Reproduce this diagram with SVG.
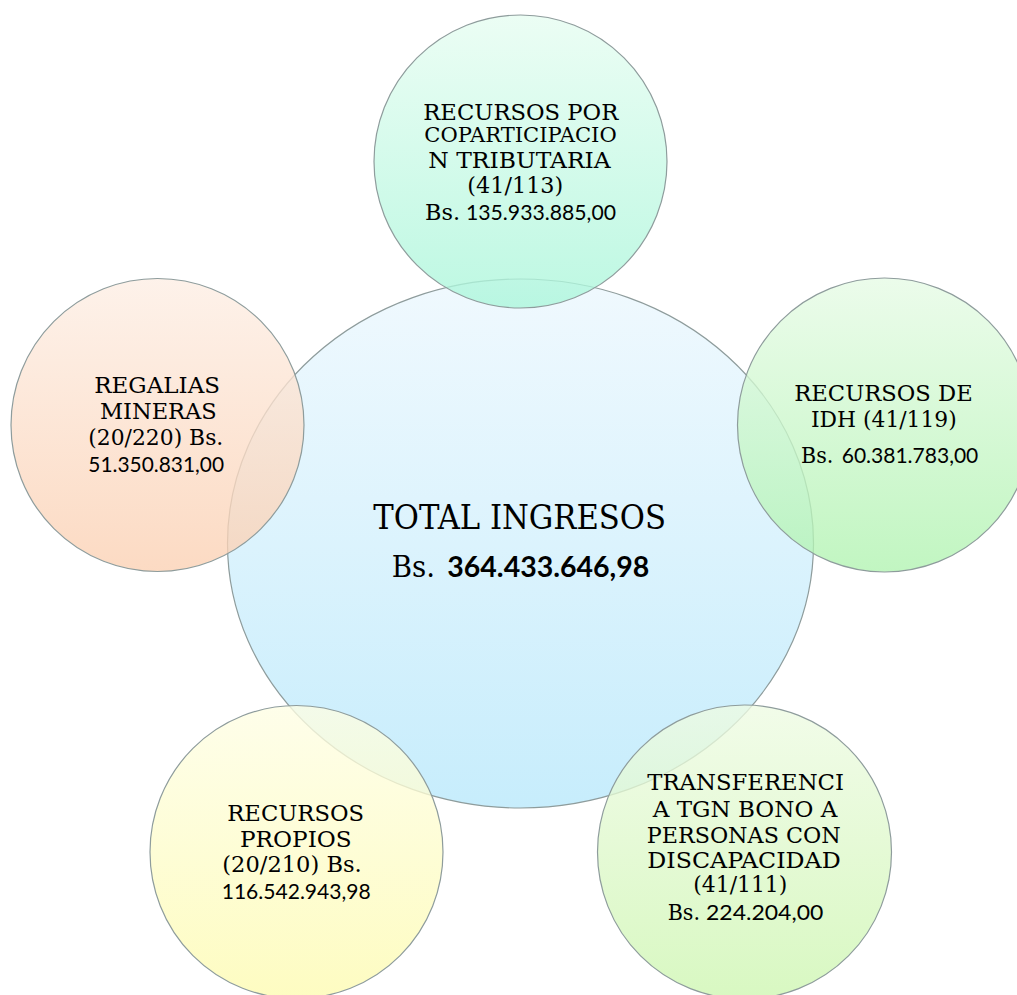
<svg xmlns="http://www.w3.org/2000/svg" width="1017" height="995" viewBox="0 0 1017 995">
<defs>
<linearGradient id="gC" x1="0" y1="0" x2="0" y2="1"><stop offset="0" stop-color="#f0f9fe"/><stop offset="1" stop-color="#c7edfc"/></linearGradient>
<linearGradient id="gT" x1="0" y1="0" x2="0" y2="1"><stop offset="0" stop-color="#e6fdf1"/><stop offset="1" stop-color="#aaf6da"/></linearGradient>
<linearGradient id="gR" x1="0" y1="0" x2="0" y2="1"><stop offset="0" stop-color="#e6fbe5"/><stop offset="1" stop-color="#b0f3b0"/></linearGradient>
<linearGradient id="gL" x1="0" y1="0" x2="0" y2="1"><stop offset="0" stop-color="#fdeee4"/><stop offset="1" stop-color="#fbd0b2"/></linearGradient>
<linearGradient id="gBL" x1="0" y1="0" x2="0" y2="1"><stop offset="0" stop-color="#fefee4"/><stop offset="1" stop-color="#fdfbb0"/></linearGradient>
<linearGradient id="gBR" x1="0" y1="0" x2="0" y2="1"><stop offset="0" stop-color="#eefbe3"/><stop offset="1" stop-color="#cdf6b0"/></linearGradient>
</defs>
<style>
.c{stroke:#8e9c9c;stroke-width:1.2}
.o{fill-opacity:0.78}
.s{font-family:"DejaVu Serif","Liberation Serif",serif;fill:#000}
.n{font-family:Lato,"Open Sans","Liberation Sans",sans-serif;fill:#000}
</style>
<rect width="1017" height="995" fill="#ffffff"/>
<g id="connectors"></g>
<g id="node-total">
<ellipse class="c" cx="520.5" cy="543.5" rx="293" ry="264.5" fill="url(#gC)"/>
</g>
<g id="node-coparticipacion">
<circle class="c o" cx="520.5" cy="161.5" r="146.5" fill="url(#gT)"/>
<text class="s" font-size="22" x="423.3" y="119.5" textLength="195" lengthAdjust="spacingAndGlyphs">RECURSOS POR</text>
<text class="s" font-size="21" x="424.3" y="142" textLength="192.4" lengthAdjust="spacingAndGlyphs">COPARTICIPACIO</text>
<text class="s" font-size="22" x="428.3" y="168.3" textLength="182.4" lengthAdjust="spacingAndGlyphs">N TRIBUTARIA</text>
<text class="s" font-size="22" x="467.3" y="192.7" textLength="96" lengthAdjust="spacingAndGlyphs">(41/113)</text>
<text font-size="22" y="220"><tspan class="s" x="425" textLength="35" lengthAdjust="spacingAndGlyphs">Bs.</tspan> <tspan class="n" font-size="21" x="466" textLength="150" lengthAdjust="spacingAndGlyphs">135.933.885,00</tspan></text>
</g>
<g id="node-idh">
<circle class="c o" cx="884.5" cy="425" r="147" fill="url(#gR)"/>
<text class="s" font-size="22" x="794.3" y="400.7" textLength="178.4" lengthAdjust="spacingAndGlyphs">RECURSOS DE</text>
<text class="s" font-size="22" x="811" y="426.7" textLength="145.7" lengthAdjust="spacingAndGlyphs">IDH (41/119)</text>
<text font-size="22" y="463.3"><tspan class="s" x="801" textLength="32.3" lengthAdjust="spacingAndGlyphs">Bs.</tspan> <tspan class="n" font-size="21" x="841.7" textLength="136.6" lengthAdjust="spacingAndGlyphs">60.381.783,00</tspan></text>
</g>
<g id="node-regalias">
<circle class="c o" cx="157.5" cy="425" r="146.5" fill="url(#gL)"/>
<text class="s" font-size="22" x="94.3" y="393.3" textLength="125.7" lengthAdjust="spacingAndGlyphs">REGALIAS</text>
<text class="s" font-size="22" x="100" y="419.3" textLength="116.7" lengthAdjust="spacingAndGlyphs">MINERAS</text>
<text class="s" font-size="22" x="88.3" y="445" textLength="135" lengthAdjust="spacingAndGlyphs">(20/220) Bs.</text>
<text class="n" font-size="21" x="88.3" y="471.7" textLength="135.7" lengthAdjust="spacingAndGlyphs">51.350.831,00</text>
</g>
<g id="node-propios">
<circle class="c o" cx="296.5" cy="852" r="146.5" fill="url(#gBL)"/>
<text class="s" font-size="22" x="227.3" y="820.7" textLength="136.7" lengthAdjust="spacingAndGlyphs">RECURSOS</text>
<text class="s" font-size="22" x="240" y="846.7" textLength="111.7" lengthAdjust="spacingAndGlyphs">PROPIOS</text>
<text class="s" font-size="22" x="222.3" y="872.2" textLength="139.4" lengthAdjust="spacingAndGlyphs">(20/210) Bs.</text>
<text class="n" font-size="20.5" x="221.7" y="898.5" textLength="149" lengthAdjust="spacingAndGlyphs">116.542.943,98</text>
</g>
<g id="node-transferencia">
<circle class="c o" cx="744.5" cy="852" r="147" fill="url(#gBR)"/>
<text class="s" font-size="22" x="647.3" y="790" textLength="196.7" lengthAdjust="spacingAndGlyphs">TRANSFERENCI</text>
<text class="s" font-size="22" x="652.7" y="816.7" textLength="184.6" lengthAdjust="spacingAndGlyphs">A TGN BONO A</text>
<text class="s" font-size="22" x="646.7" y="843.3" textLength="194" lengthAdjust="spacingAndGlyphs">PERSONAS CON</text>
<text class="s" font-size="22" x="647.3" y="868.3" textLength="193.4" lengthAdjust="spacingAndGlyphs">DISCAPACIDAD</text>
<text class="s" font-size="22" x="693.3" y="891.7" textLength="94" lengthAdjust="spacingAndGlyphs">(41/111)</text>
<text font-size="22" y="920"><tspan class="s" x="667.7" textLength="32.3" lengthAdjust="spacingAndGlyphs">Bs.</tspan> <tspan class="n" font-size="21" x="706" textLength="117.3" lengthAdjust="spacingAndGlyphs">224.204,00</tspan></text>
</g>
<g id="node-total-label">
<text class="s" font-size="33" x="373.3" y="529.3" textLength="292.7" lengthAdjust="spacingAndGlyphs">TOTAL INGRESOS</text>
<text font-size="30" y="576.7"><tspan class="s" x="391.7" textLength="43.3" lengthAdjust="spacingAndGlyphs">Bs.</tspan> <tspan class="n" font-weight="bold" font-size="29" x="447.3" textLength="202" lengthAdjust="spacingAndGlyphs">364.433.646,98</tspan></text>
</g>
</svg>
